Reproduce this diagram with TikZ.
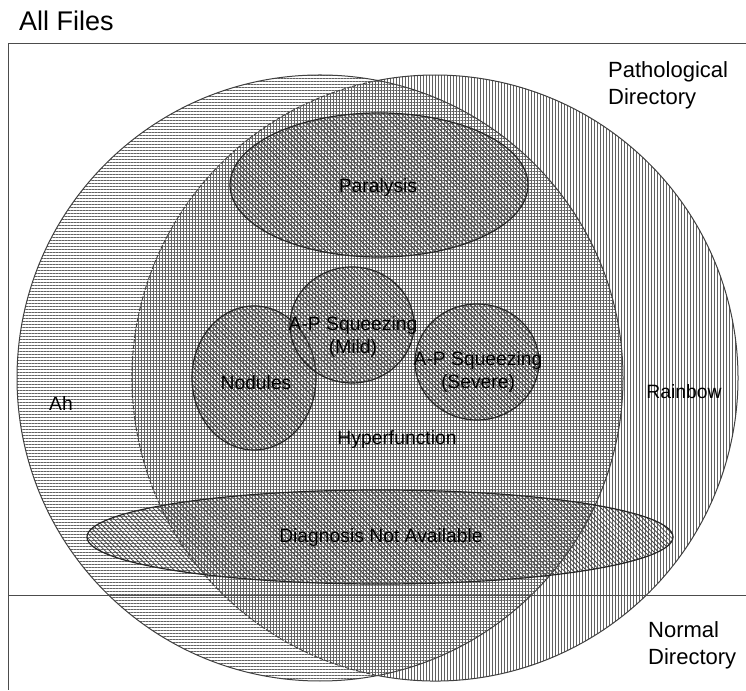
\documentclass[tikz,border=0pt]{standalone}
\usepackage{fontspec}
\setmainfont{Liberation Sans}
\usetikzlibrary{patterns.meta}
\begin{document}
\begin{tikzpicture}[x=1pt,y=1pt,
  outline/.style={draw=black!75, line width=1pt},
  hatchH/.style={pattern={Lines[angle=0,distance=3pt,line width=0.9pt]}, pattern color=black!62},
  hatchV/.style={pattern={Lines[angle=90,distance=3pt,line width=0.9pt]}, pattern color=black!62},
  hatchD/.style={pattern={Lines[angle=-45,distance=3.2pt,line width=0.85pt]}, pattern color=black!72},
  subset/.style={hatchD, draw=black!85, line width=1.2pt},
  lbl/.style={font=\fontsize{19.3}{23}\selectfont, align=center, inner sep=0pt},
  dirlbl/.style={font=\fontsize{22}{27}\selectfont, align=left, inner sep=0pt, anchor=north west},
  framerule/.style={draw=black!70, line width=1pt}
]
\useasboundingbox (0,0) rectangle (746,690);

% centres of the two large sets
\coordinate (ahc) at (320,312);
\coordinate (rbc) at (435,312);

% hatched fills of the two large sets
\fill[hatchH] (ahc) circle[radius=303];
\fill[hatchV] (rbc) circle[radius=303];

% outlines: the Rainbow border is dashed where it runs inside Ah
\draw[outline] (ahc) circle[radius=303];
\draw[outline] ([shift={(-100.94:303)}]rbc) arc[start angle=-100.94, end angle=100.94, radius=303];
\draw[outline, dash pattern=on 4pt off 1.5pt] ([shift={(100.94:303)}]rbc) arc[start angle=100.94, end angle=259.06, radius=303];

% frame of all files and the directory split
\coordinate (ftr) at (746,646);
\coordinate (ftl) at (8,646);
\coordinate (fbl) at (8,0);
\coordinate (nl) at (8,95);
\coordinate (nr) at (746,95);
\draw[framerule] (ftr) -- (ftl) -- (fbl);
\draw[framerule, line width=0.9pt] (nl) -- (nr);

% diagnosis subsets
\filldraw[subset] (379,505) ellipse[x radius=149, y radius=72];
\filldraw[subset] (254,312) ellipse[x radius=62, y radius=72];
\filldraw[subset] (352,365) ellipse[x radius=62, y radius=58];
\filldraw[subset] (477,328) ellipse[x radius=62, y radius=58];
\filldraw[subset] (380,153) ellipse[x radius=293, y radius=47];

% labels
\node[font=\fontsize{27}{32}\selectfont, inner sep=0pt, anchor=north west] (allfiles) at (19,679) {All Files};
\node[dirlbl] (patho) at (608,629) {Pathological\\Directory};
\node[dirlbl] (normal) at (648,69) {Normal\\Directory};

\node[lbl] (paralysis) at (378,502) {Paralysis};
\node[lbl] (mild) at (353,353) {A-P Squeezing\\(Mild)};
\node[lbl] (severe) at (478,318) {A-P Squeezing\\(Severe)};
\node[lbl] (nodules) at (256,307) {Nodules};
\node[lbl] (ah) at (61,286) {Ah};
\node[lbl] (rainbow) at (684,298) {Rainbow};
\node[lbl] (hyper) at (397,250) {Hyperfunction};
\node[lbl] (diag) at (381,152) {Diagnosis Not Available};
\end{tikzpicture}
\end{document}
